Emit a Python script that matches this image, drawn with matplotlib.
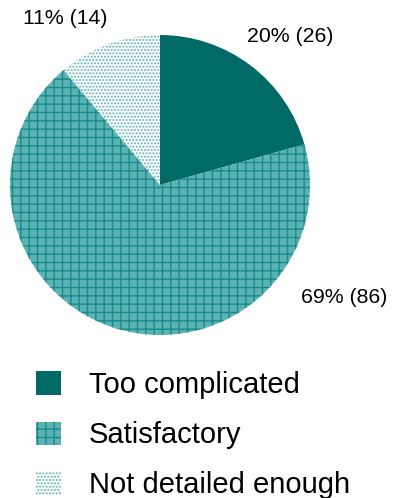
import matplotlib.pyplot as plt
from matplotlib.patches import Patch

plt.rcParams['font.family'] = ['Liberation Sans', 'DejaVu Sans']
plt.rcParams['hatch.linewidth'] = 1.0

categories = ['Too complicated', 'Satisfactory', 'Not detailed enough']
counts = [26, 86, 14]
pct_text = [20, 69, 11]

faces = ['#006b66', '#5ab2b2', 'white']
hatch_cols = ['#006b66', '#178a8a', '#5fb5b5']
hatches = [None, '++', '.....']

# label spots in pie units
label_xy = [(0.87, 0.99), (1.23, -0.75), (-0.63, 1.11)]

fig = plt.figure(figsize=(3.94, 4.98), dpi=100)
ax = fig.add_axes([10/394, 163/498, 300/394, 300/498])

wedges, _ = ax.pie(counts, startangle=90, counterclock=False,
                   colors=faces, wedgeprops=dict(linewidth=0))
for w, hc, h in zip(wedges, hatch_cols, hatches):
    w.set_edgecolor(hc)
    w.set_hatch(h)
    w.set_linewidth(0)

for (x, y), p, c in zip(label_xy, pct_text, counts):
    ax.text(x, y, '%d%% (%d)' % (p, c), ha='center', va='center', fontsize=15.3)

ax.set_xlim(-1, 1)
ax.set_ylim(-1, 1)
ax.set_aspect('equal')
ax.axis('off')

handles = [Patch(facecolor=f, edgecolor=hc, hatch=h, linewidth=0)
           for f, hc, h in zip(faces, hatch_cols, hatches)]
fig.legend(handles, categories, loc='upper left', bbox_to_anchor=(0.055, 0.284),
           frameon=False, fontsize=21, handlelength=0.85, handleheight=0.85,
           handletextpad=0.95, labelspacing=0.76, borderpad=0)

fig.savefig('out.png', dpi=100)
